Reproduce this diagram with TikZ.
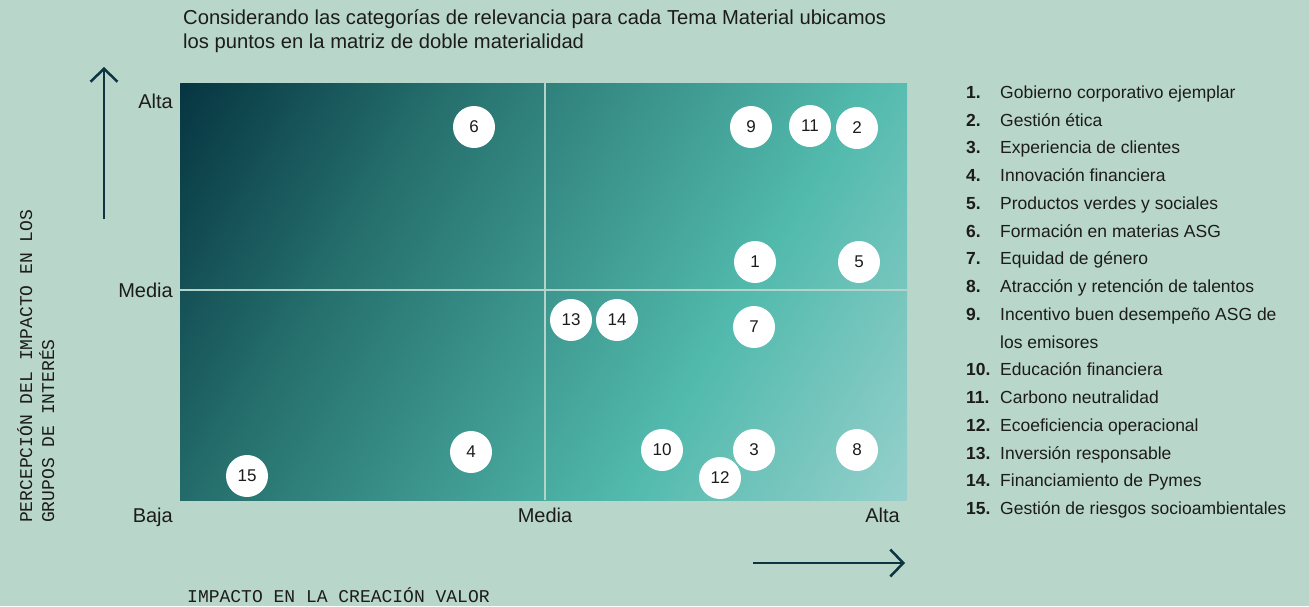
\documentclass[tikz,border=0pt]{standalone}
\usepackage{fontspec}
\setmainfont{Liberation Sans}
\setmonofont{Liberation Mono}
\usetikzlibrary{arrows.meta}
\definecolor{bgc}{HTML}{B9D6CB}
\definecolor{gA}{HTML}{063541}
\definecolor{gB}{HTML}{26706E}
\definecolor{gC}{HTML}{52BAAD}
\definecolor{gD}{HTML}{96D0CC}
\definecolor{divc}{HTML}{B4D3C9}
\definecolor{arrc}{HTML}{0B3640}
\definecolor{txt}{HTML}{1C1C1C}
\pgfdeclarehorizontalshading{matgrad}{100bp}{color(0bp)=(gA); color(25bp)=(gA); color(39bp)=(gB); color(60.5bp)=(gC); color(75bp)=(gD); color(100bp)=(gD)}
\tikzset{
  dot/.style={circle, fill=white, draw=none, minimum size=42, inner sep=0pt, text=txt, font=\fontsize{17}{20}\selectfont},
  lvl/.style={text=txt, font=\fontsize{20}{24}\selectfont, inner sep=0pt},
  axlab/.style={text=txt, font=\ttfamily\fontsize{18}{20}\selectfont, inner sep=0pt},
  ttl/.style={text=txt, font=\fontsize{20.2}{24}\selectfont, inner sep=0pt, anchor=base west},
  lnum/.style={text=txt, font=\bfseries\fontsize{17.5}{20}\selectfont, inner sep=0pt, anchor=base west},
  litem/.style={text=txt, font=\fontsize{17.5}{20}\selectfont, inner sep=0pt, anchor=base west},
  axarrow/.style={draw=arrc, line width=2.5pt, -{Straight Barb[length=13pt,width=27pt,line width=2.5pt]}},
  divider/.style={draw=divc, line width=2.5pt}
}
\begin{document}
\begin{tikzpicture}[x=1pt,y=-1pt]
\useasboundingbox (0,0) rectangle (1309,606);
\fill[bgc] (0,0) rectangle (1309,606);
% matrix background gradient
\begin{scope}
  \clip (180,83) rectangle (907,500);
  \begin{scope}[transform canvas={rotate around={-31:(543.5,291.5)}}]
    \shade[shading=matgrad] (125,-108.5) rectangle (962,691.5);
  \end{scope}
\end{scope}
% dividers
\coordinate (vtop) at (545,83);
\coordinate (vbot) at (545,500);
\coordinate (hl) at (180,290);
\coordinate (hr) at (907,290);
\draw[divider] (vtop) -- (vbot);
\draw[divider] (hl) -- (hr);
% title
\node[ttl] (t1) at (183,24) {Considerando las categorías de relevancia para cada Tema Material ubicamos};
\node[ttl] (t2) at (183,48) {los puntos en la matriz de doble materialidad};
% axis arrows
\coordinate (va1) at (104,219);
\coordinate (va2) at (104,67);
\draw[axarrow] (va1) -- (va2);
\coordinate (ha1) at (753,563);
\coordinate (ha2) at (905,563);
\draw[axarrow] (ha1) -- (ha2);
% level labels
\node[lvl, anchor=base east] (yalta) at (173,108) {Alta};
\node[lvl, anchor=base east] (ymedia) at (173,297) {Media};
\node[lvl, anchor=base east] (ybaja) at (173,522) {Baja};
\node[lvl, anchor=base] (xmedia) at (545,522) {Media};
\node[lvl, anchor=base east] (xalta) at (900,522) {Alta};
% axis titles
\node[axlab, rotate=90, anchor=base west] (yl1) at (32,523) {PERCEPCIÓN DEL IMPACTO EN LOS};
\node[axlab, rotate=90, anchor=base west] (yl2) at (54,523) {GRUPOS DE INTERÉS};
\node[axlab, anchor=base west] (xl) at (187,602) {IMPACTO EN LA CREACIÓN VALOR};
% points
\node[dot] (p6) at (474,127) {6};
\node[dot] (p9) at (751,127) {9};
\node[dot] (p11) at (810,126) {11};
\node[dot] (p2) at (857,128) {2};
\node[dot] (p1) at (755,262) {1};
\node[dot] (p5) at (859,262) {5};
\node[dot] (p13) at (571,320) {13};
\node[dot] (p14) at (617,320) {14};
\node[dot] (p7) at (754,327) {7};
\node[dot] (p10) at (662,450) {10};
\node[dot] (p3) at (754,450) {3};
\node[dot] (p8) at (857,450) {8};
\node[dot] (p12) at (720,478) {12};
\node[dot] (p4) at (471,452) {4};
\node[dot] (p15) at (247,476) {15};
% legend
\node[lnum] (n1) at (966,98.3) {1.};
\node[litem] (i1) at (1000,98.3) {Gobierno corporativo ejemplar};
\node[lnum] (n2) at (966,126.05) {2.};
\node[litem] (i2) at (1000,126.05) {Gestión ética};
\node[lnum] (n3) at (966,153.8) {3.};
\node[litem] (i3) at (1000,153.8) {Experiencia de clientes};
\node[lnum] (n4) at (966,181.55) {4.};
\node[litem] (i4) at (1000,181.55) {Innovación financiera};
\node[lnum] (n5) at (966,209.3) {5.};
\node[litem] (i5) at (1000,209.3) {Productos verdes y sociales};
\node[lnum] (n6) at (966,237.05) {6.};
\node[litem] (i6) at (1000,237.05) {Formación en materias ASG};
\node[lnum] (n7) at (966,264.8) {7.};
\node[litem] (i7) at (1000,264.8) {Equidad de género};
\node[lnum] (n8) at (966,292.55) {8.};
\node[litem] (i8) at (1000,292.55) {Atracción y retención de talentos};
\node[lnum] (n9) at (966,320.3) {9.};
\node[litem] (i9) at (1000,320.3) {Incentivo buen desempeño ASG de};
\node[litem] (i9b) at (1000,348.05) {los emisores};
\node[lnum] (n10) at (966,375.8) {10.};
\node[litem] (i10) at (1000,375.8) {Educación financiera};
\node[lnum] (n11) at (966,403.55) {11.};
\node[litem] (i11) at (1000,403.55) {Carbono neutralidad};
\node[lnum] (n12) at (966,431.3) {12.};
\node[litem] (i12) at (1000,431.3) {Ecoeficiencia operacional};
\node[lnum] (n13) at (966,459.05) {13.};
\node[litem] (i13) at (1000,459.05) {Inversión responsable};
\node[lnum] (n14) at (966,486.8) {14.};
\node[litem] (i14) at (1000,486.8) {Financiamiento de Pymes};
\node[lnum] (n15) at (966,514.55) {15.};
\node[litem] (i15) at (1000,514.55) {Gestión de riesgos socioambientales};
\end{tikzpicture}
\end{document}
